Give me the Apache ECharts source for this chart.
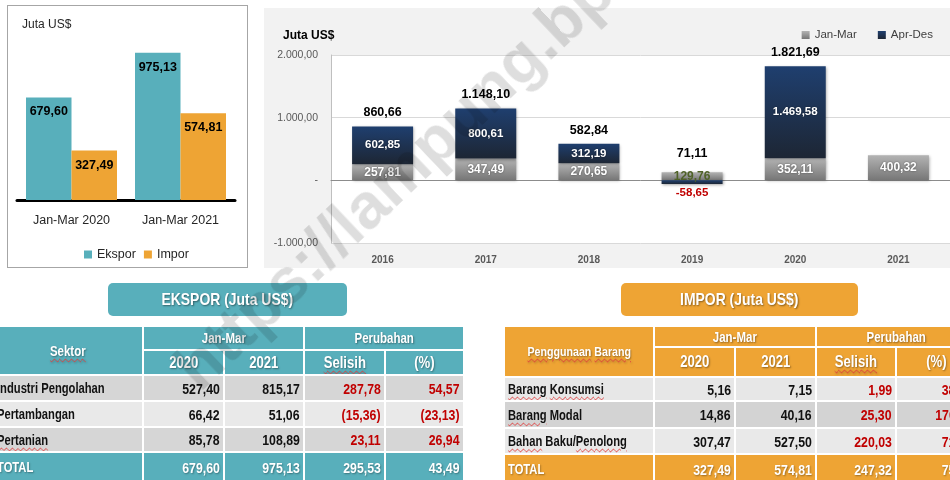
<!DOCTYPE html>
<html>
<head>
<meta charset="utf-8">
<script src="https://cdn.jsdelivr.net/npm/echarts@6/dist/echarts.min.js"></script>
<style>
  html, body { margin: 0; padding: 0; }
  body { width: 950px; height: 480px; position: relative; overflow: hidden; background: #fff;
    font-family: 'Liberation Sans', Arial, sans-serif; }
  .left-box { position: absolute; left: 7px; top: 5px; width: 241px; height: 263px;
    border: 1px solid #a6a6a6; box-sizing: border-box; background: #fff; }
  .right-bg { position: absolute; left: 264px; top: 8px; width: 700px; height: 260px; background: #f2f2f2; }
  #chart { position: absolute; left: 0; top: 0; width: 950px; height: 280px; }
  /* Liberation Sans dipersempit ~ Arial Narrow */
  .t { display: inline-block; transform: scaleX(0.82); }
  .tab { position: absolute; top: 283px; height: 33px; line-height: 34px; border-radius: 5px;
    color: #fff; font-weight: bold; font-size: 17px; text-align: center;
    text-shadow: 1px 1px 2px rgba(0, 0, 0, 0.45); }
  .tab .t { transform-origin: center; }
  .tab.ekspor { left: 108px; width: 239px; background: #58afbb; }
  .tab.impor { left: 621px; width: 237px; background: #eea434; }
  table { position: absolute; top: 325px; border-collapse: collapse; table-layout: fixed; }
  td { border: 2px solid #fff; padding: 0 3px; white-space: nowrap; overflow: hidden;
    font-size: 14px; font-weight: bold; color: #111; }
  td.h { color: #fff; text-align: center; text-shadow: 1px 1px 2px rgba(0, 0, 0, 0.4); font-size: 14px; }
  td.h .t { transform-origin: center; }
  td.h.yr { font-size: 16px; }
  td.n { text-align: right; font-size: 15px; }
  td.n .t { transform-origin: right center; }
  td.red { color: #c00000; }
  td.lbl { font-size: 14px; }
  td.lbl .t { transform-origin: left center; transform: scaleX(0.8); }
  tr.tot td { color: #fff; text-shadow: 1px 1px 2px rgba(0, 0, 0, 0.35); }
  .sp { text-decoration: underline wavy #e03a3a; text-decoration-thickness: 1px; text-underline-offset: 2px; }
  #tblEkspor { left: -8px; }
  #tblEkspor td.h, #tblEkspor tr.tot td { background: #58afbb; }
  #tblImpor { left: 503px; }
  #tblImpor td.h, #tblImpor tr.tot td { background: #eea434; }
  #tblImpor td.h.first { font-size: 13px; }
  .wm { position: absolute; left: 200px; top: 339px;
    font-weight: bold; font-size: 64px; line-height: 64px; white-space: nowrap; color: rgba(0, 0, 0, 0.13);
    transform-origin: 0 54px; transform: rotate(-43.5deg); pointer-events: none; }
</style>
</head>
<body>
<div class="left-box"></div>
<div class="right-bg"></div>
<div id="chart"></div>
<div class="tab ekspor"><span class="t">EKSPOR (Juta US$)</span></div>
<div class="tab impor"><span class="t">IMPOR (Juta US$)</span></div>
<table id="tblEkspor"></table>
<table id="tblImpor"></table>
<div class="wm">https://lampung.bps.go.id</div>

<script>
// perbandingan Jan-Mar
const periodCategories = ['Jan-Mar 2020', 'Jan-Mar 2021']
const eksporValues = [679.60, 975.13]
const imporValues = [327.49, 574.81]

// neraca perdagangan per tahun
const years = ['2016', '2017', '2018', '2019', '2020', '2021']
const janMarValues = [257.81, 347.49, 270.65, 129.76, 352.11, 400.32]
const aprDesValues = [602.85, 800.61, 312.19, -58.65, 1469.58, null]
const yearTotals = [860.66, 1148.10, 582.84, 71.11, 1821.69, null]
const balanceTicks = [-1000, 0, 1000, 2000]

// tabel ekspor
const eksporSectors = ['Industri Pengolahan', 'Pertambangan', 'Pertanian', 'TOTAL']
const eksporY2020 = [527.40, 66.42, 85.78, 679.60]
const eksporY2021 = [815.17, 51.06, 108.89, 975.13]
const eksporSelisih = [287.78, -15.36, 23.11, 295.53]
const eksporPersen = [54.57, -23.13, 26.94, 43.49]

// tabel impor
const imporGoods = ['Barang Konsumsi', 'Barang Modal', 'Bahan Baku/Penolong', 'TOTAL']
const imporY2020 = [5.16, 14.86, 307.47, 327.49]
const imporY2021 = [7.15, 40.16, 527.50, 574.81]
const imporSelisih = [1.99, 25.30, 220.03, 247.32]
const imporPersen = [38.57, 170.26, 71.56, 75.52]

const FONT = "'Liberation Sans', Arial, sans-serif"

const fmtId = (v, digits = 2) => {
  const [i, f] = Math.abs(v).toFixed(digits).split('.')
  const s = i.replace(/\B(?=(\d{3})+(?!\d))/g, '.') + (f ? ',' + f : '')
  return v < 0 ? '-' + s : s
}
const fmtTable = v => (v < 0 ? '(' + fmtId(-v) + ')' : fmtId(v))

const spell = new Set(['Sektor', 'Selisih', 'Pertanian', 'Barang', 'Konsumsi', 'Bahan', 'Penolong', 'Penggunaan'])
const markSpell = text => text.split(/(\s|\/)/).map(w => (spell.has(w) ? `<span class="sp">${w}</span>` : w)).join('')
const t = html => `<span class="t">${html}</span>`

const buildTable = (el, cfg) => {
  const cols = cfg.widths.map(w => `<col style="width:${w}px">`).join('')
  let html = `<colgroup>${cols}</colgroup>`
  html += `<tr style="height:${cfg.heights[0]}px"><td class="h first" rowspan="2">${t(markSpell(cfg.firstHead))}</td>` +
    `<td class="h" colspan="2">${t('Jan-Mar')}</td><td class="h" colspan="2">${t('Perubahan')}</td></tr>`
  html += `<tr style="height:${cfg.heights[1]}px"><td class="h yr">${t('2020')}</td>` +
    `<td class="h yr">${t('2021')}</td><td class="h yr">${t(markSpell('Selisih'))}</td><td class="h yr">${t('(%)')}</td></tr>`
  cfg.labels.forEach((label, i) => {
    const isTotal = i === cfg.labels.length - 1
    const bg = isTotal ? '' : `background:${cfg.rowColors[i]}`
    const red = isTotal ? '' : ' red'
    html += `<tr class="${isTotal ? 'tot' : ''}" style="height:${cfg.heights[i + 2]}px;${bg}">` +
      `<td class="lbl">${t(isTotal ? label : markSpell(label))}</td>` +
      `<td class="n">${t(fmtTable(cfg.a[i]))}</td>` +
      `<td class="n">${t(fmtTable(cfg.b[i]))}</td>` +
      `<td class="n${red}">${t(fmtTable(cfg.diff[i]))}</td>` +
      `<td class="n${red}">${t(fmtTable(cfg.pct[i]))}</td></tr>`
  })
  el.innerHTML = html
  el.style.width = cfg.widths.reduce((a, b) => a + b, 0) + 'px'
}

buildTable(document.getElementById('tblEkspor'), {
  firstHead: 'Sektor',
  labels: eksporSectors,
  a: eksporY2020, b: eksporY2021, diff: eksporSelisih, pct: eksporPersen,
  widths: [150, 81, 80, 81, 79],
  heights: [24, 25, 26, 26, 25, 30],
  rowColors: ['#d6d6d6', '#e9e9e9', '#d6d6d6'],
})

buildTable(document.getElementById('tblImpor'), {
  firstHead: 'Penggunaan Barang',
  labels: imporGoods,
  a: imporY2020, b: imporY2021, diff: imporSelisih, pct: imporPersen,
  widths: [150, 81, 81, 80, 81],
  heights: [21, 30, 24, 27, 26, 30],
  rowColors: ['#e7e7e7', '#d3d3d3', '#e9e9e9'],
})

const chart = echarts.init(document.getElementById('chart'))

const greyFill = new echarts.graphic.LinearGradient(0, 0, 0, 1, [
  {offset: 0, color: '#b3b3b3'},
  {offset: 1, color: '#767676'},
])
const navyFill = new echarts.graphic.LinearGradient(0, 0, 0, 1, [
  {offset: 0, color: '#1f3f6f'},
  {offset: 1, color: '#1d2634'},
])
const barShadow = {shadowBlur: 3, shadowColor: 'rgba(0,0,0,0.35)', shadowOffsetX: 1, shadowOffsetY: 1}
const whiteLabel = {
  show: true, position: 'inside', color: '#fff', fontFamily: FONT, fontWeight: 'bold',
  textShadowColor: 'rgba(0,0,0,0.5)', textShadowBlur: 2,
  formatter: p => fmtId(p.value),
}

// 2019: Jan-Mar hijau, Apr-Des negatif di bawah batang, total agak naik
const negIdx = aprDesValues.findIndex(v => v != null && v < 0)
const janMarData = janMarValues.map((v, i) =>
  i === negIdx ? {value: v, label: {color: '#4f6228', textShadowBlur: 0}} : v)
const aprDesData = aprDesValues.map((v, i) =>
  i === negIdx ? {value: v, label: {position: 'bottom', distance: 3, color: '#c00000', textShadowBlur: 0}} : v)
const totalData = yearTotals.map((v, i) => {
  if (v == null) return null
  return i === negIdx ? {value: 0, label: {distance: 24}} : 0
})

const option = {
  animation: false,
  title: [
    {text: 'Juta US$', left: 17, top: 14, textStyle: {fontFamily: FONT, fontSize: 12, fontWeight: 'normal', color: '#262626'}},
    {text: 'Juta US$', left: 278, top: 25, textStyle: {fontFamily: FONT, fontSize: 12, fontWeight: 'bold', color: '#000'}},
  ],
  legend: [
    {
      data: ['Ekspor', 'Impor'], left: 79, top: 243, icon: 'rect', itemWidth: 8, itemHeight: 8, itemGap: 8,
      textStyle: {fontFamily: FONT, fontSize: 12.5, color: '#262626'},
    },
    {
      data: ['Jan-Mar', 'Apr-Des'], right: 12, top: 24, icon: 'rect', itemWidth: 8, itemHeight: 8, itemGap: 21,
      textStyle: {fontFamily: FONT, fontSize: 11.5, color: '#404040'},
    },
  ],
  grid: [
    {left: 17, top: 49, width: 218, height: 151},
    {left: 331, top: 55, width: 621, height: 188, show: true, backgroundColor: '#fff', borderWidth: 0},
  ],
  xAxis: [
    {
      type: 'category', gridIndex: 0, data: periodCategories,
      axisLine: {lineStyle: {color: '#000', width: 3}}, axisTick: {show: false},
      axisLabel: {interval: 0, margin: 14, fontFamily: FONT, fontSize: 12.5, color: '#262626'},
    },
    {
      type: 'category', gridIndex: 1, data: years,
      axisLine: {onZero: true, lineStyle: {color: '#8c8c8c'}},
      axisTick: {length: 4, lineStyle: {color: '#8c8c8c'}},
      axisLabel: {show: false},
    },
    {
      type: 'category', gridIndex: 1, data: years, position: 'bottom',
      axisLine: {show: false}, axisTick: {show: false},
      axisLabel: {interval: 0, margin: 12, fontFamily: FONT, fontSize: 10, fontWeight: 'bold', color: '#595959'},
    },
  ],
  yAxis: [
    {type: 'value', gridIndex: 0, min: 0, max: 1000, show: false},
    {
      type: 'value', gridIndex: 1,
      min: balanceTicks[0], max: balanceTicks[balanceTicks.length - 1], interval: 1000,
      axisLine: {show: true, lineStyle: {color: '#bfbfbf'}}, axisTick: {show: false},
      splitLine: {lineStyle: {color: '#d9d9d9'}},
      axisLabel: {
        margin: 13, fontFamily: FONT, fontSize: 10.5, color: '#595959',
        formatter: v => (v === 0 ? '-' : fmtId(v)),
      },
    },
  ],
  series: [
    {
      name: 'Ekspor', type: 'bar', xAxisIndex: 0, yAxisIndex: 0, data: eksporValues,
      barWidth: 45.5, barGap: '0%', itemStyle: {color: '#58afbb'},
      label: {show: true, position: 'insideTop', distance: 8, fontFamily: FONT, fontSize: 12.5, fontWeight: 'bold', color: '#000', formatter: p => fmtId(p.value)},
    },
    {
      name: 'Impor', type: 'bar', xAxisIndex: 0, yAxisIndex: 0, data: imporValues,
      barWidth: 45.5, barGap: '0%', itemStyle: {color: '#eea434'},
      label: {show: true, position: 'insideTop', distance: 8, fontFamily: FONT, fontSize: 12.5, fontWeight: 'bold', color: '#000', formatter: p => fmtId(p.value)},
    },
    {
      name: 'Jan-Mar', type: 'bar', xAxisIndex: 1, yAxisIndex: 1, stack: 'neraca', data: janMarData,
      barWidth: 61, itemStyle: {color: greyFill, ...barShadow},
      label: {...whiteLabel, fontSize: 12},
    },
    {
      name: 'Apr-Des', type: 'bar', xAxisIndex: 1, yAxisIndex: 1, stack: 'neraca', data: aprDesData,
      barWidth: 61, itemStyle: {color: navyFill, ...barShadow},
      label: {...whiteLabel, fontSize: 11.5},
    },
    {
      name: 'Total', type: 'bar', xAxisIndex: 1, yAxisIndex: 1, stack: 'neraca', data: totalData,
      barWidth: 61, itemStyle: {color: 'transparent'},
      label: {
        show: true, position: 'top', distance: 7, fontFamily: FONT, fontSize: 12.5, fontWeight: 'bold', color: '#000',
        formatter: p => (yearTotals[p.dataIndex] == null ? '' : fmtId(yearTotals[p.dataIndex])),
      },
    },
  ],
}

chart.setOption(option)
</script>
</body>
</html>
